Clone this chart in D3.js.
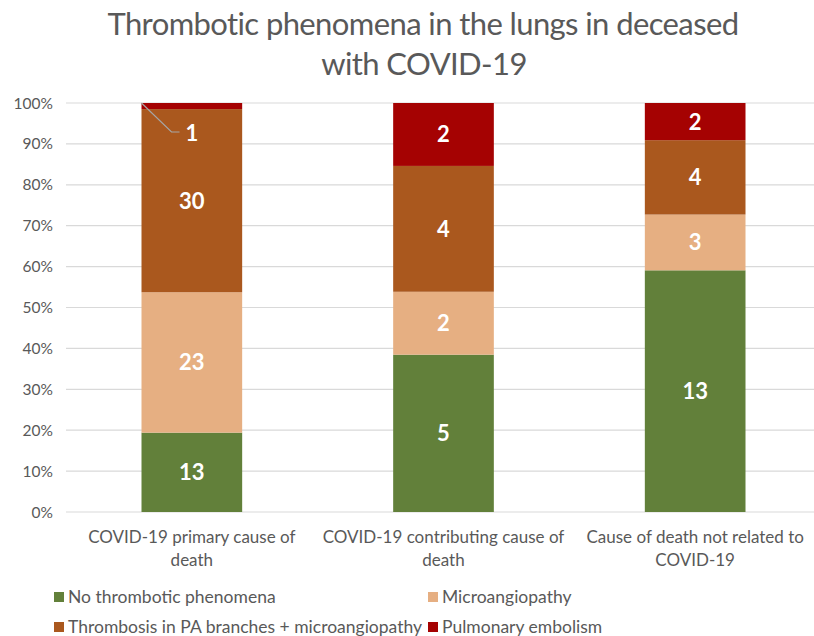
<!DOCTYPE html>
<html><head><meta charset="utf-8">
<script src="https://cdn.jsdelivr.net/npm/d3@7"></script>
<style>body{margin:0;background:#fff}svg{display:block}</style>
</head><body>
<script>
const categories = [["COVID-19 primary cause of","death"],["COVID-19 contributing cause of","death"],["Cause of death not related to","COVID-19"]];
const seriesNames = ["No thrombotic phenomena","Microangiopathy","Thrombosis in PA branches + microangiopathy","Pulmonary embolism"];
const noThrombotic = [13,5,13];
const microangiopathy = [23,2,3];
const thrombosisPA = [30,4,4];
const pulmonaryEmbolism = [1,2,2];
const colors = ["#62803A","#E6AF82","#AA581E","#A50202"];
const yTicks = [0,0.1,0.2,0.3,0.4,0.5,0.6,0.7,0.8,0.9,1];

(function(){
const W=814,H=636;
const svg=d3.select("body").append("svg").attr("width",W).attr("height",H);
const font="Lato, 'Open Sans', sans-serif";
const pL=66,pR=821,pT=103,pB=512;
const x=d3.scaleBand().domain(d3.range(3)).range([pL,pR]).paddingInner(0.6).paddingOuter(0.3);
const y=d3.scaleLinear().domain([0,1]).range([pB,pT]);

// title
svg.append("text").attr("x",423).attr("y",35).attr("text-anchor","middle").attr("font-family",font).attr("font-size",31).attr("fill","#595959").attr("letter-spacing","-0.6").text("Thrombotic phenomena in the lungs in deceased");
svg.append("text").attr("x",424).attr("y",75).attr("text-anchor","middle").attr("font-family",font).attr("font-size",31).attr("fill","#595959").attr("letter-spacing","-0.6").text("with COVID-19");

// grid
svg.append("g").selectAll("line").data(yTicks).join("line")
  .attr("x1",pL).attr("x2",W).attr("y1",d=>y(d)).attr("y2",d=>y(d))
  .attr("stroke","#D9D9D9").attr("stroke-width",1.2);
svg.append("g").selectAll("text").data(yTicks).join("text")
  .attr("x",53).attr("y",d=>y(d)+5.5).attr("text-anchor","end")
  .attr("font-family",font).attr("font-size",15.5).attr("fill","#595959")
  .text(d=>d3.format(".0%")(d));

const series=[noThrombotic,microangiopathy,thrombosisPA,pulmonaryEmbolism];
const totals=d3.range(3).map(i=>d3.sum(series,s=>s[i]));
const rows=d3.range(3).map(i=>{const o={i};series.forEach((s,k)=>o[k]=s[i]/totals[i]);return o;});
const stack=d3.stack().keys([0,1,2,3])(rows);

stack.forEach((layer,k)=>{
  const g=svg.append("g");
  g.selectAll("rect").data(layer).join("rect")
    .attr("x",d=>x(d.data.i)).attr("width",x.bandwidth())
    .attr("y",d=>y(d[1])).attr("height",d=>y(d[0])-y(d[1]))
    .attr("fill",colors[k]);
});
// labels
stack.forEach((layer,k)=>{
  layer.forEach((d,i)=>{
    const v=series[k][i];
    let cx=x(i)+x.bandwidth()/2, cy=(y(d[0])+y(d[1]))/2;
    if(k===3 && i===0){
      cx=192; cy=133;
      svg.append("polyline").attr("points",`${x(i)},${y(d[1])} ${x(i)+30},${cy-1} ${x(i)+38},${cy-1}`)
        .attr("fill","none").attr("stroke","#A6A6A6").attr("stroke-width",1.2);
    }
    svg.append("text").attr("x",cx).attr("y",cy+8).attr("text-anchor","middle")
      .attr("font-family",font).attr("font-weight","bold").attr("font-size",22).attr("fill","#fff").text(v);
  });
});

// category labels
categories.forEach((c,i)=>{
  const t=svg.append("text").attr("text-anchor","middle").attr("font-family",font).attr("font-size",17).attr("fill","#595959");
  c.forEach((line,j)=>t.append("tspan").attr("x",x(i)+x.bandwidth()/2).attr("y",543+j*23).text(line));
});

// legend
const legPos=[[54,603],[428,603],[54,633],[428,633]];
seriesNames.forEach((n,k)=>{
  const [lx,ly]=legPos[k];
  svg.append("rect").attr("x",lx).attr("y",ly-11).attr("width",10).attr("height",10).attr("fill",colors[k]);
  svg.append("text").attr("x",lx+14).attr("y",ly).attr("font-family",font).attr("font-size",17.5).attr("fill","#595959").text(n);
});
})();
</script>
</body></html>
